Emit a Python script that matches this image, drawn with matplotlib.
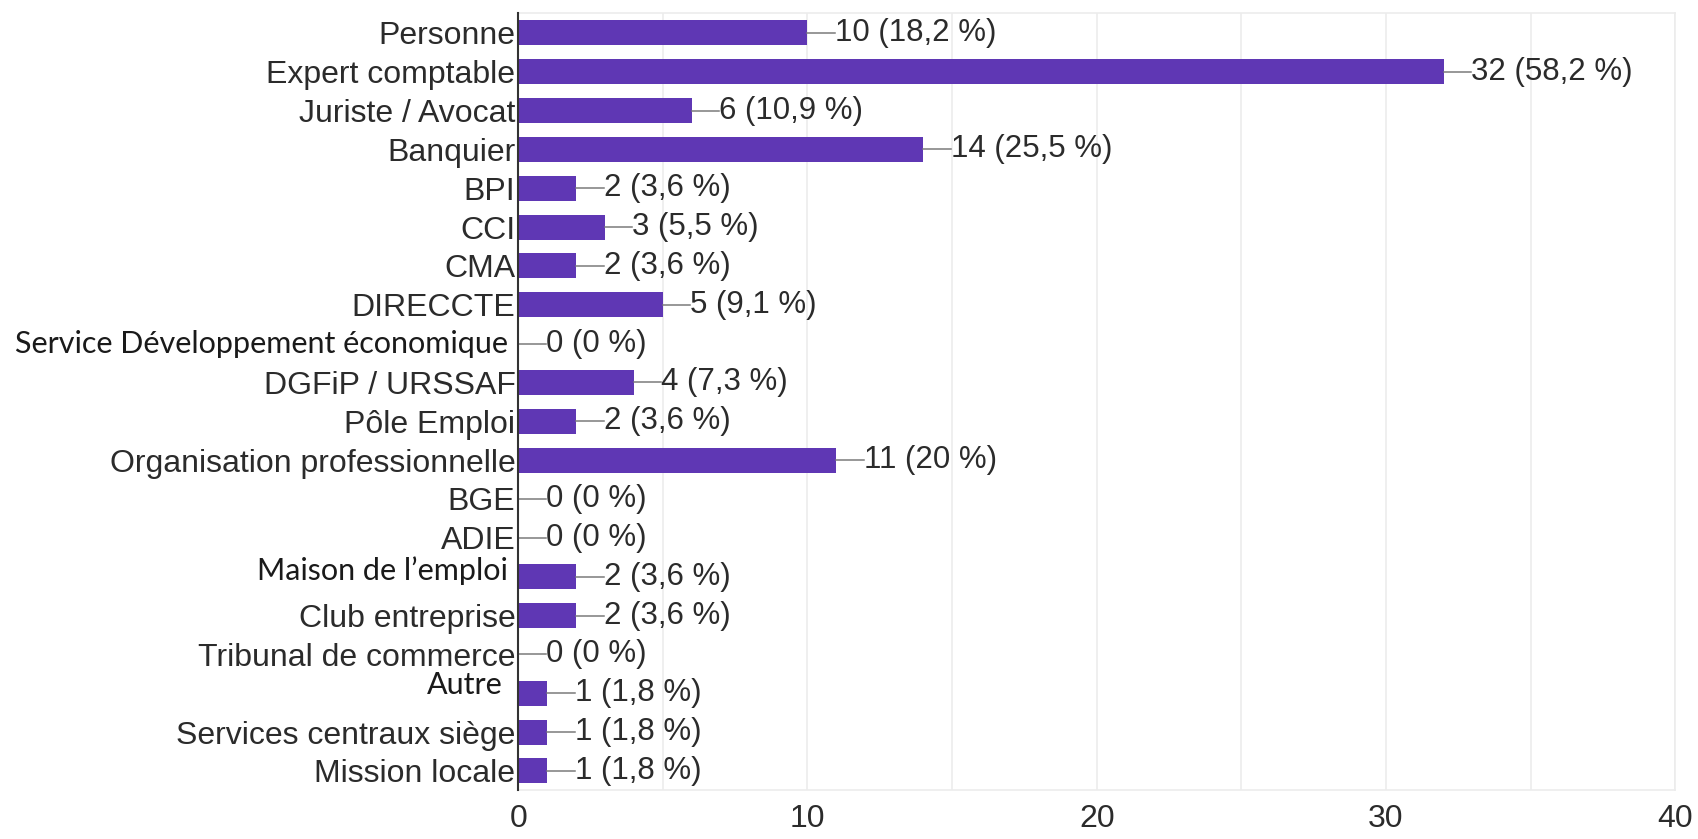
import matplotlib
matplotlib.use('Agg')
import matplotlib.pyplot as plt

# data
categories = ['Personne', 'Expert comptable', 'Juriste / Avocat', 'Banquier', 'BPI', 'CCI', 'CMA',
              'DIRECCTE', 'Service Développement économique', 'DGFiP / URSSAF', 'Pôle Emploi',
              'Organisation professionnelle', 'BGE', 'ADIE', 'Maison de l\u2019emploi',
              'Club entreprise', 'Tribunal de commerce', 'Autre', 'Services centraux siège',
              'Mission locale']
counts = [10, 32, 6, 14, 2, 3, 2, 5, 0, 4, 2, 11, 0, 0, 2, 2, 0, 1, 1, 1]
percents = ['18,2', '58,2', '10,9', '25,5', '3,6', '5,5', '3,6', '9,1', '0', '7,3', '3,6',
            '20', '0', '0', '3,6', '3,6', '0', '1,8', '1,8', '1,8']
xticks = [0, 10, 20, 30, 40]

# labels that were pasted in another font in the original
other_font = {'Service Développement économique': (0.35, 0.0),
              'Maison de l\u2019emploi': (0.35, -0.15),
              'Autre': (0.55, -0.2)}

bar_color = '#5f37b4'
text_color = '#2b2b2b'

fig = plt.figure(figsize=(16.99, 8.39), dpi=100)
ax = fig.add_axes([0.305, 0.058, 0.681, 0.926])

y = list(range(len(categories)))
ax.barh(y, counts, height=0.64, color=bar_color, zorder=3)

lead = 0.95
for i, (c, p) in enumerate(zip(counts, percents)):
    ax.plot([c, c + lead], [i, i], color='#7a7a7a', lw=1.1, zorder=3)
    ax.text(c + lead, i, f'{c} ({p} %)', va='center', ha='left', fontsize=22.5,
            family='Liberation Sans', color=text_color, zorder=4)

ax.set_ylim(len(categories) - 0.5, -0.5)
ax.set_xlim(0, 40)
ax.set_yticks(y)
ax.set_yticklabels([c if c not in other_font else '' for c in categories],
                   fontsize=23, family='Liberation Sans', color=text_color)
ax.set_xticks(xticks)
ax.set_xticklabels([str(t) for t in xticks], fontsize=23, family='Liberation Sans', color=text_color)
ax.tick_params(axis='y', length=0, pad=2)
ax.tick_params(axis='x', length=0, pad=10)

for name, (dx, dy) in other_font.items():
    i = categories.index(name)
    ax.text(-dx, i + dy, name, ha='right', va='center', fontsize=22, family='Lato',
            color='#1a1a1a')

# light grid every 5
for g in range(5, 41, 5):
    ax.axvline(g, color='#ececec', lw=1.2, zorder=1)
for s in ['top', 'bottom', 'right']:
    ax.spines[s].set_color('#ececec')
    ax.spines[s].set_linewidth(1.2)
ax.spines['left'].set_color('#333333')
ax.spines['left'].set_linewidth(1.5)
ax.spines['left'].set_zorder(5)

fig.savefig('out.png', dpi=100)
